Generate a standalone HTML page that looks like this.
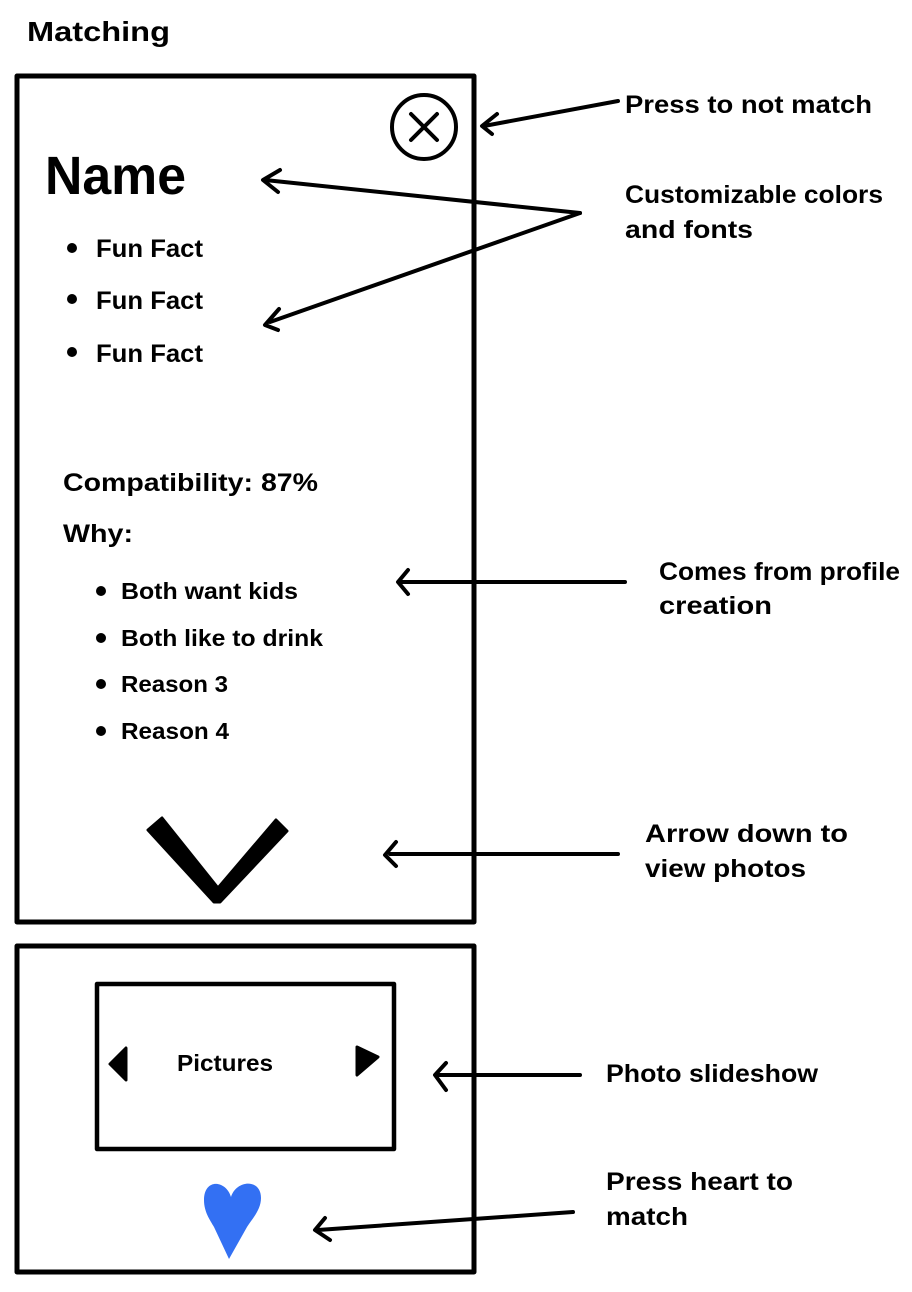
<!DOCTYPE html>
<html><head><meta charset="utf-8"><style>
html,body{margin:0;padding:0;background:#fff;}
svg{display:block;}
text{font-family:"Liberation Sans",sans-serif;font-weight:bold;fill:#000;}
</style></head><body>
<svg width="912" height="1292" viewBox="0 0 912 1292" xmlns="http://www.w3.org/2000/svg">
<text x="27" y="41" font-size="28" textLength="143" lengthAdjust="spacingAndGlyphs">Matching</text>
<g fill="none" stroke="#000" stroke-width="5" stroke-linecap="round" stroke-linejoin="round">
<rect x="17" y="76" width="457" height="846"/>
<rect x="17" y="946" width="457" height="326"/>
<rect x="97" y="984" width="297" height="165" stroke-width="4.5"/>
<circle cx="424" cy="127" r="32" stroke-width="4"/>
<path d="M411 114 L437 140 M437 114 L411 140" stroke-width="4"/>
<path d="M618 101 L484 126 M497 114 L482 126 L492 134" stroke-width="4"/>
<path d="M580 213 L265 180 M280 170 L263 180 L278 192" stroke-width="4"/>
<path d="M580 213 L270 322 M279 309 L265 325 L278 330" stroke-width="4"/>
<path d="M625 582 L400 582 M408 570 L398 582 L408 594" stroke-width="4"/>
<path d="M618 854 L390 854 M396 842 L385 855 L396 866" stroke-width="4"/>
<path d="M580 1075 L437 1075 M446 1063 L435 1075 L446 1090" stroke-width="4"/>
<path d="M573 1212 L318 1230 M325 1218 L315 1230 L330 1240" stroke-width="4"/>
</g>
<path d="M148 830 L162 818 L218 888 L276 820 L287 831 L220 902 L214 902 Z" fill="#000" stroke="#000" stroke-width="3" stroke-linejoin="round"/>
<path d="M110 1064 L126 1048 L126 1080 Z" fill="#000" stroke="#000" stroke-width="3" stroke-linejoin="round"/>
<path d="M357 1047 L378 1057 L357 1075 Z" fill="#000" stroke="#000" stroke-width="3" stroke-linejoin="round"/>
<path d="M231 1197 C226 1180 204 1178 204 1200 C204 1212 210 1220 214 1227 L229 1259 L247 1227 C252 1219 261 1210 261 1198 C261 1178 236 1180 231 1197 Z" fill="#3370f3"/>
<text x="45" y="194" font-size="54" textLength="141" lengthAdjust="spacingAndGlyphs">Name</text>
<g font-size="25">
<circle cx="72" cy="248" r="5"/><text x="96" y="257" textLength="107" lengthAdjust="spacingAndGlyphs">Fun Fact</text>
<circle cx="72" cy="299" r="5"/><text x="96" y="309" textLength="107" lengthAdjust="spacingAndGlyphs">Fun Fact</text>
<circle cx="72" cy="352" r="5"/><text x="96" y="362" textLength="107" lengthAdjust="spacingAndGlyphs">Fun Fact</text>
<text x="63" y="491" textLength="255" lengthAdjust="spacingAndGlyphs">Compatibility: 87%</text>
<text x="63" y="542" textLength="70" lengthAdjust="spacingAndGlyphs">Why:</text>
</g>
<g font-size="23">
<circle cx="101" cy="591" r="5"/><text x="121" y="599" textLength="177" lengthAdjust="spacingAndGlyphs">Both want kids</text>
<circle cx="101" cy="638" r="5"/><text x="121" y="646" textLength="202" lengthAdjust="spacingAndGlyphs">Both like to drink</text>
<circle cx="101" cy="684" r="5"/><text x="121" y="692" textLength="107" lengthAdjust="spacingAndGlyphs">Reason 3</text>
<circle cx="101" cy="731" r="5"/><text x="121" y="739" textLength="108" lengthAdjust="spacingAndGlyphs">Reason 4</text>
<text x="177" y="1071" textLength="96" lengthAdjust="spacingAndGlyphs">Pictures</text>
</g>
<g font-size="25">
<text x="625" y="113" textLength="247" lengthAdjust="spacingAndGlyphs">Press to not match</text>
<text x="625" y="203" textLength="258" lengthAdjust="spacingAndGlyphs">Customizable colors</text>
<text x="625" y="238" textLength="128" lengthAdjust="spacingAndGlyphs">and fonts</text>
<text x="659" y="580" textLength="241" lengthAdjust="spacingAndGlyphs">Comes from profile</text>
<text x="659" y="614" textLength="113" lengthAdjust="spacingAndGlyphs">creation</text>
<text x="645" y="842" textLength="203" lengthAdjust="spacingAndGlyphs">Arrow down to</text>
<text x="645" y="877" textLength="161" lengthAdjust="spacingAndGlyphs">view photos</text>
<text x="606" y="1082" textLength="212" lengthAdjust="spacingAndGlyphs">Photo slideshow</text>
<text x="606" y="1190" textLength="187" lengthAdjust="spacingAndGlyphs">Press heart to</text>
<text x="606" y="1225" textLength="82" lengthAdjust="spacingAndGlyphs">match</text>
</g>
</svg>
</body></html>
